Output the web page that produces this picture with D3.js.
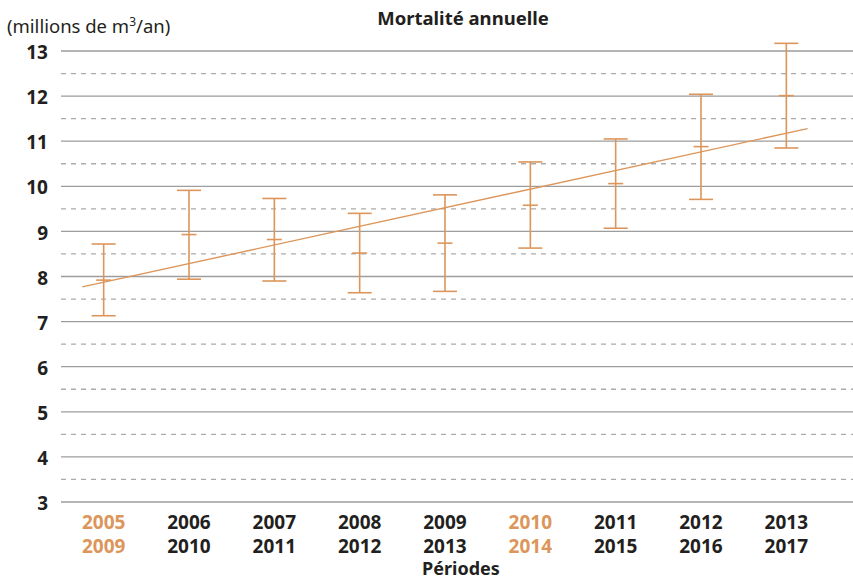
<!DOCTYPE html>
<html>
<head>
<meta charset="utf-8">
<script src="https://cdn.jsdelivr.net/npm/d3@7"></script>
<style>
  body { margin: 0; background: #fff; }
  text { font-family: "Noto Sans", "Open Sans", sans-serif; }
</style>
</head>
<body>
<script>
const width = 853;
const height = 580;

const margin = { left: 61, right: 24, top: 51, bottom: 78 };

// data
const periodStart = ["2005", "2006", "2007", "2008", "2009", "2010", "2011", "2012", "2013"];
const periodEnd   = ["2009", "2010", "2011", "2012", "2013", "2014", "2015", "2016", "2017"];
const highlighted = ["2005", "2010"];
const upper  = [8.72, 9.91, 9.73, 9.40, 9.81, 10.54, 11.05, 12.04, 13.17];
const middle = [7.92, 8.93, 8.82, 8.52, 8.74, 9.58, 10.06, 10.88, 12.01];
const lower  = [7.13, 7.94, 7.90, 7.64, 7.67, 8.63, 9.07, 9.71, 10.85];
// trend line, from a quarter period before the first to a quarter after the last
const trendIndex = [-0.25, 8.25];
const trendValue = [7.77, 11.28];
const yTicks = [3, 4, 5, 6, 7, 8, 9, 10, 11, 12, 13];
const yHalfTicks = [3.5, 4.5, 5.5, 6.5, 7.5, 8.5, 9.5, 10.5, 11.5, 12.5];

const orange = "#dc965b";

let data = periodStart.map((p, i) => ({
    start: p, end: periodEnd[i], hi: upper[i], mid: middle[i], lo: lower[i]
}));

let svg = d3.select("body").append("svg")
    .attr("width", width)
    .attr("height", height);

let xScale = d3.scaleBand()
    .domain(periodStart)
    .range([margin.left, width - margin.right]);

let yScale = d3.scaleLinear()
    .domain([3, 13])
    .range([height - margin.bottom, margin.top]);

// index scale for the trend line (same positions as band centres)
let xIndex = d3.scaleLinear()
    .domain([0, periodStart.length - 1])
    .range([xScale(periodStart[0]) + xScale.bandwidth() / 2,
            xScale(periodStart[periodStart.length - 1]) + xScale.bandwidth() / 2]);

// grid
svg.append("g").selectAll("line")
    .data(yHalfTicks)
    .join("line")
    .attr("x1", margin.left)
    .attr("x2", width)
    .attr("y1", d => yScale(d))
    .attr("y2", d => yScale(d))
    .attr("stroke", "#ababab")
    .attr("stroke-width", 1.3)
    .attr("stroke-dasharray", "5,5");

svg.append("g").selectAll("line")
    .data(yTicks)
    .join("line")
    .attr("x1", margin.left)
    .attr("x2", width)
    .attr("y1", d => yScale(d))
    .attr("y2", d => yScale(d))
    .attr("stroke", "#9d9d9d")
    .attr("stroke-width", 1.3);

// y axis labels
let yAxis = svg.append("g")
    .attr("transform", `translate(${margin.left},0)`)
    .call(d3.axisLeft(yScale).tickValues(yTicks).tickSize(0).tickPadding(13));
yAxis.select(".domain").remove();
yAxis.selectAll("text")
    .attr("dy", "0.4em")
    .style("font-family", "'Noto Sans', sans-serif")
    .style("font-size", "19px")
    .style("font-weight", "bold")
    .attr("fill", "#231f20");

// x labels, one text per row
[[d => d.start, 529], [d => d.end, 553]].forEach(([label, y]) => {
    svg.append("g").selectAll("text")
        .data(data)
        .join("text")
        .attr("x", d => xScale(d.start) + xScale.bandwidth() / 2)
        .attr("y", y)
        .attr("text-anchor", "middle")
        .style("font-size", "19px")
        .style("font-weight", "bold")
        .attr("fill", d => highlighted.includes(d.start) ? orange : "#231f20")
        .text(label);
});

// error bars
let bars = svg.append("g").selectAll("g")
    .data(data)
    .join("g")
    .attr("transform", d => `translate(${xScale(d.start) + xScale.bandwidth() / 2},0)`)
    .attr("stroke", orange)
    .attr("stroke-width", 1.6);

bars.append("line")
    .attr("y1", d => yScale(d.hi))
    .attr("y2", d => yScale(d.lo));
bars.append("line")
    .attr("x1", -12).attr("x2", 12)
    .attr("y1", d => yScale(d.hi))
    .attr("y2", d => yScale(d.hi));
bars.append("line")
    .attr("x1", -12).attr("x2", 12)
    .attr("y1", d => yScale(d.lo))
    .attr("y2", d => yScale(d.lo));
bars.append("line")
    .attr("x1", -7.5).attr("x2", 7.5)
    .attr("y1", d => yScale(d.mid))
    .attr("y2", d => yScale(d.mid));

// trend line
svg.append("path")
    .datum(trendIndex.map((t, i) => [t, trendValue[i]]))
    .attr("fill", "none")
    .attr("stroke", orange)
    .attr("stroke-width", 1.4)
    .attr("d", d3.line().x(d => xIndex(d[0])).y(d => yScale(d[1])));

// titles
svg.append("text")
    .attr("x", 7)
    .attr("y", 33)
    .style("font-size", "18.5px")
    .attr("fill", "#231f20")
    .html('(millions de m<tspan dy="-7" font-size="12px">3</tspan><tspan dy="7">/an)</tspan>');

svg.append("text")
    .attr("x", 463)
    .attr("y", 25)
    .attr("text-anchor", "middle")
    .style("font-size", "18.5px")
    .style("font-weight", "bold")
    .attr("fill", "#231f20")
    .text("Mortalité annuelle");

svg.append("text")
    .attr("x", 461)
    .attr("y", 575)
    .attr("text-anchor", "middle")
    .style("font-size", "18px")
    .style("font-weight", "bold")
    .attr("fill", "#231f20")
    .text("Périodes");
</script>
</body>
</html>
